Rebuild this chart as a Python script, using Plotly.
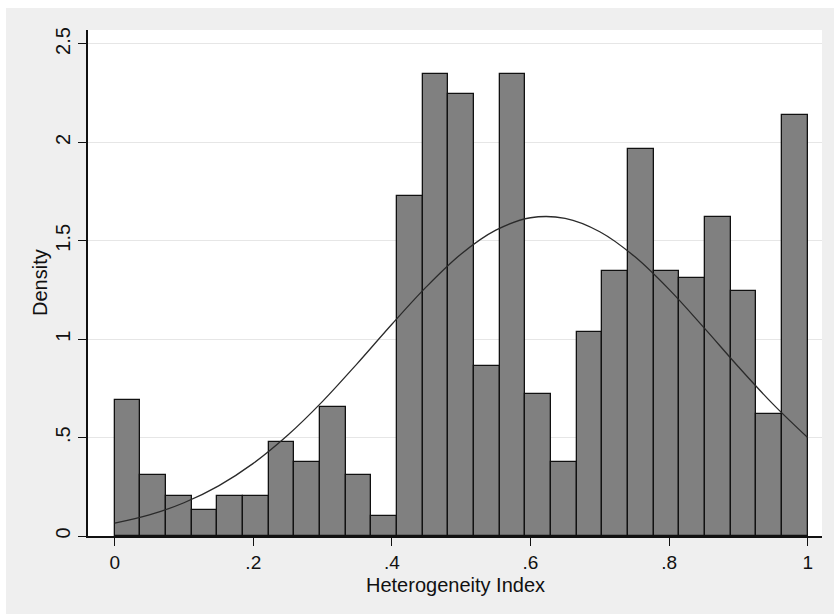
import plotly.graph_objects as go

# Histogram: 27 equal bins on [0, 1]
bin_start = 0.0
bin_width = 1.0 / 27
density = [0.690, 0.308, 0.205, 0.134, 0.205, 0.205, 0.480, 0.378, 0.656, 0.308,
           0.102, 1.728, 2.347, 2.244, 0.864, 2.347, 0.722, 0.378, 1.037, 1.347,
           1.966, 1.347, 1.311, 1.621, 1.245, 0.620, 2.141]

# Normal density overlay
curve_x = [0.00, 0.05, 0.10, 0.15, 0.20, 0.25, 0.30, 0.35, 0.40, 0.45, 0.50,
           0.55, 0.60, 0.65, 0.70, 0.75, 0.80, 0.85, 0.90, 0.95, 1.00]
curve_y = [0.065, 0.107, 0.169, 0.255, 0.369, 0.513, 0.684, 0.876, 1.076, 1.267, 1.433,
           1.554, 1.617, 1.614, 1.546, 1.421, 1.253, 1.060, 0.860, 0.670, 0.500]

x_ticks = [0, 0.2, 0.4, 0.6, 0.8, 1]
x_tick_labels = ["0", ".2", ".4", ".6", ".8", "1"]
y_ticks = [0, 0.5, 1, 1.5, 2, 2.5]
y_tick_labels = ["0", ".5", "1", "1.5", "2", "2.5"]
x_title = "Heterogeneity Index"
y_title = "Density"

centers = [bin_start + (i + 0.5) * bin_width for i in range(len(density))]

FONT = "Arial, 'Liberation Sans', sans-serif"

fig = go.Figure()
fig.add_trace(go.Bar(
    x=centers, y=density, width=[bin_width] * len(density),
    marker=dict(color="#808080", line=dict(color="#111111", width=1.3)),
    showlegend=False, hoverinfo="skip",
))
fig.add_trace(go.Scatter(
    x=curve_x, y=curve_y, mode="lines", line=dict(color="#2a2a2a", width=1.3, shape="spline"),
    showlegend=False, hoverinfo="skip",
))

W, H = 834, 614
ml, mr, mt, mb = 88, 12, 30, 78
pw, ph = W - ml - mr, H - mt - mb

def px_x(p):
    return (p - ml) / pw

def px_y(p):
    return (H - mb - p) / ph

fig.update_layout(
    width=W, height=H,
    margin=dict(l=ml, r=mr, t=mt, b=mb, pad=0, autoexpand=False),
    paper_bgcolor="#efefef", plot_bgcolor="white",
    bargap=0,
    font=dict(family=FONT, color="#111111", size=20),
    shapes=[
        dict(type="rect", xref="paper", yref="paper", x0=px_x(0), x1=px_x(6), y0=px_y(H), y1=px_y(0),
             fillcolor="white", line=dict(width=0), layer="above"),
        dict(type="rect", xref="paper", yref="paper", x0=px_x(0), x1=px_x(W), y0=px_y(8), y1=px_y(0),
             fillcolor="white", line=dict(width=0), layer="above"),
    ],
    annotations=[
        dict(text=x_title, xref="paper", yref="paper", x=px_x(455.5), y=px_y(585),
             xanchor="center", yanchor="middle", showarrow=False, font=dict(size=20)),
        dict(text=y_title, xref="paper", yref="paper", x=px_x(40), y=px_y(283),
             xanchor="center", yanchor="middle", showarrow=False, textangle=-90, font=dict(size=20)),
    ],
    xaxis=dict(
        range=[-0.0385, 1.0207], tickvals=x_ticks, ticktext=x_tick_labels,
        showgrid=False, zeroline=False, showline=True, linecolor="#111111", linewidth=1.6,
        ticks="outside", ticklen=8, tickwidth=1.3, tickcolor="#111111",
        tickfont=dict(size=19), automargin=False,
    ),
    yaxis=dict(
        range=[0, 2.571], tickvals=y_ticks, ticktext=y_tick_labels, tickangle=-90,
        showgrid=True, gridcolor="#e6e6e6", gridwidth=1,
        zeroline=False, showline=True, linecolor="#111111", linewidth=1.6,
        ticks="outside", ticklen=8, tickwidth=1.3, tickcolor="#111111",
        tickfont=dict(size=20), automargin=False,
    ),
)

fig.write_html(
    "out.html",
    config={"displayModeBar": False},
    post_script="document.body.style.margin='0';document.body.style.padding='0';document.body.style.overflow='hidden';",
)
